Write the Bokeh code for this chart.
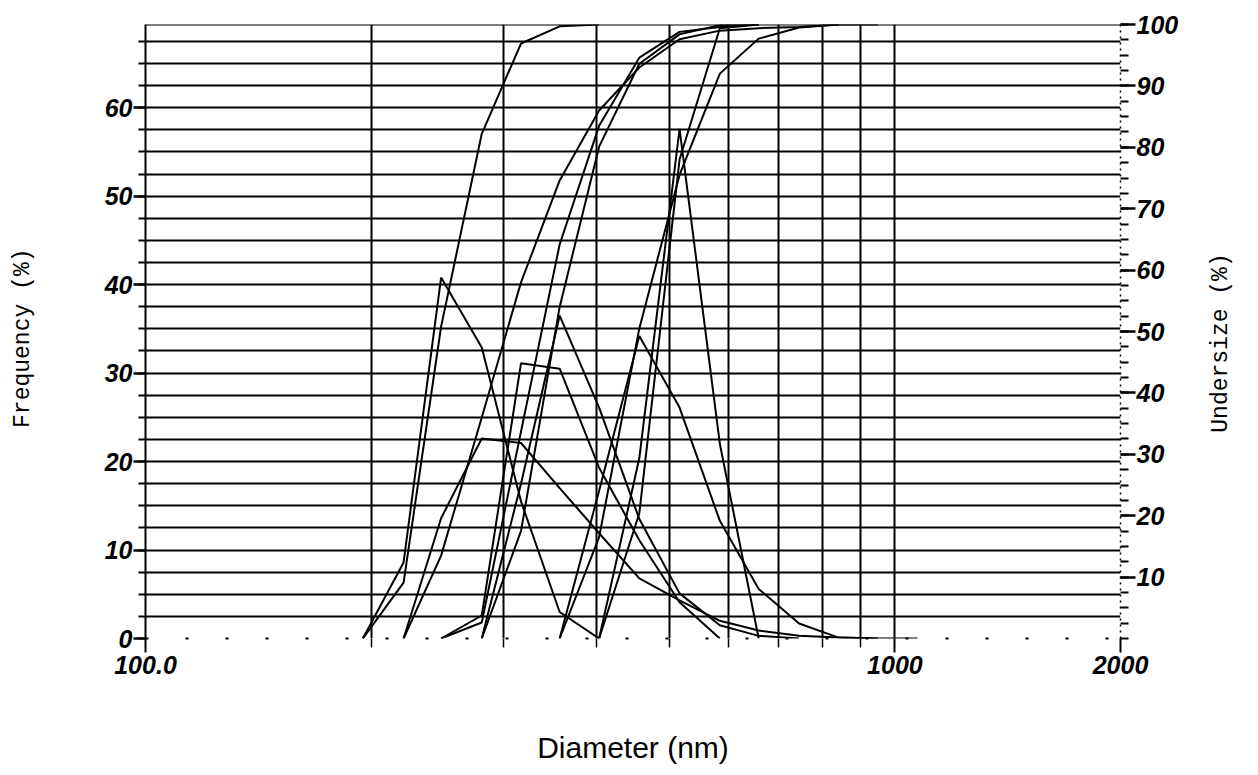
import math
from bokeh.plotting import figure
from bokeh.layouts import row
from bokeh.models import Range1d, LinearAxis, FixedTicker, Span, Label
from bokeh.embed import file_html
from bokeh.resources import INLINE

N = float("nan")

# Particle size bins (nm)
diameter_nm = [195, 221, 248, 281, 317, 357, 403, 456, 516, 584, 658, 745, 841, 949, 1072]

# Frequency (%) curves, left axis
freq_1 = [0, 8.6, 40.8, 32.9, 15.5, 3.0, 0, N, N, N, N, N, N, N, N]
freq_2 = [N, 0, 13.6, 22.6, 22.1, 17.0, 11.9, 6.8, 4.3, 2.0, 0.9, 0.3, 0.1, 0, 0]
freq_3 = [N, N, 0, 2.6, 31.1, 30.5, 19.3, 11.1, 4.1, 0, N, N, N, N, N]
freq_4 = [N, N, N, 0, 17.5, 36.5, 26.1, 13.5, 5.1, 1.5, 0.3, 0, N, N, N]
freq_5 = [N, N, N, N, N, 0, 16.7, 34.2, 26.1, 13.3, 5.6, 1.7, 0.1, 0, N]
freq_6 = [N, N, N, N, N, N, 0, 20.4, 57.6, 22.0, 0, N, N, N, N]

# Undersize (%) curves, right axis
under_1 = [0, 9.1, 50.8, 82.2, 96.9, 99.7, 100, N, N, N, N, N, N, N, N]
under_2 = [N, 0, 13.5, 36.0, 58.0, 74.6, 86.0, 93.0, 97.6, 99.0, 99.4, 99.6, 100, N, N]
under_3 = [N, N, 0, 2.6, 33.7, 64.2, 83.5, 94.6, 98.8, 99.6, 100, N, N, N, N]
under_4 = [N, N, N, 0, 17.5, 54.0, 80.1, 93.6, 98.4, 99.9, 100, N, N, N, N]
under_5 = [N, N, N, N, N, 0, 16.5, 50.5, 75.5, 92.0, 97.7, 99.5, 100, 100, N]
under_6 = [N, N, N, N, N, N, 0, 20.4, 78.0, 99.4, 100, N, N, N, N]

freq_series = [freq_1, freq_2, freq_3, freq_4, freq_5, freq_6]
under_series = [under_1, under_2, under_3, under_4, under_5, under_6]

x_ticks = [100, 1000, 2000]
x_tick_labels = {100: "100.0", 1000: "1000", 2000: "2000"}
x_minor = [200, 300, 400, 500, 600, 700, 800, 900]
left_ticks = [0, 10, 20, 30, 40, 50, 60]
right_ticks = [10, 20, 30, 40, 50, 60, 70, 80, 90, 100]
left_minor = [2.5 * k for k in range(0, 28)]
right_minor = [2.5 * k for k in range(0, 41)]
hgrid = [2.5 * k for k in range(1, 28)]

LEFT_MAX = 69.4
H = 775
LEFT_STRIP = 45
RIGHT_STRIP = 68
MAIN_W = 1258 - LEFT_STRIP - RIGHT_STRIP

p = figure(width=MAIN_W, height=H, x_axis_type="log",
           x_range=Range1d(100, 2000), y_range=Range1d(0, LEFT_MAX),
           output_backend="svg", toolbar_location=None, title=None,
           min_border_left=145 - LEFT_STRIP, min_border_right=MAIN_W + LEFT_STRIP - 1120,
           min_border_top=24, min_border_bottom=137)
p.extra_y_ranges = {"right": Range1d(0, 100)}
p.outline_line_color = None
p.background_fill_color = "white"
p.border_fill_color = "white"

tick_font = "Liberation Sans"

# x axis
xa = p.xaxis[0]
xa.ticker = FixedTicker(ticks=x_ticks, minor_ticks=x_minor)
xa.major_label_overrides = x_tick_labels
xa.major_label_text_font = tick_font
xa.major_label_text_font_style = "bold italic"
xa.major_label_text_font_size = "25px"
xa.major_label_text_color = "black"
xa.major_tick_out = 14
xa.major_tick_in = 0
xa.minor_tick_out = 9
xa.minor_tick_in = 0
xa.major_tick_line_width = 2
xa.minor_tick_line_width = 1.5
xa.major_label_standoff = 3
xa.axis_line_dash = "3 37"
xa.axis_line_width = 2
xa.axis_label = "Diameter (nm)"
xa.axis_label_text_font = "Liberation Sans"
xa.axis_label_text_font_style = "normal"
xa.axis_label_text_font_size = "30px"
xa.axis_label_text_color = "black"
xa.axis_label_standoff = 54

# left axis
ya = p.yaxis[0]
ya.ticker = FixedTicker(ticks=left_ticks, minor_ticks=left_minor)
ya.major_label_text_font = tick_font
ya.major_label_text_font_style = "bold italic"
ya.major_label_text_font_size = "25px"
ya.major_label_text_color = "black"
ya.major_tick_out = 12
ya.major_tick_in = 0
ya.minor_tick_out = 7
ya.minor_tick_in = 0
ya.major_tick_line_width = 2.5
ya.minor_tick_line_width = 2
ya.major_label_standoff = 1
ya.axis_line_width = 2

# right axis
ra = LinearAxis(y_range_name="right",
                ticker=FixedTicker(ticks=right_ticks, minor_ticks=right_minor))
ra.major_label_text_font = tick_font
ra.major_label_text_font_style = "bold italic"
ra.major_label_text_font_size = "25px"
ra.major_label_text_color = "black"
ra.major_tick_out = 15
ra.major_tick_in = 0
ra.minor_tick_out = 8
ra.minor_tick_in = 0
ra.major_tick_line_width = 2.5
ra.minor_tick_line_width = 2
ra.major_label_standoff = 1
ra.axis_line_dash = "2 4"
ra.axis_line_width = 1.5
p.add_layout(ra, "right")

# grids
p.xgrid.ticker = FixedTicker(ticks=x_minor + [1000])
p.ygrid.ticker = FixedTicker(ticks=hgrid)
for g in (p.xgrid, p.ygrid):
    g.grid_line_color = "black"
    g.grid_line_width = 2
    g.grid_line_alpha = 1.0

p.add_layout(Span(location=LEFT_MAX, dimension="width", line_color="black", line_width=2))

# curves
for ys in freq_series:
    p.line(diameter_nm, ys, line_color="black", line_width=2)
for ys in under_series:
    p.line(diameter_nm, ys, line_color="black", line_width=2, y_range_name="right")


def title_strip(w, text, cx, cy):
    s = figure(width=w, height=H, x_range=Range1d(0, w), y_range=Range1d(0, H),
               output_backend="svg", toolbar_location=None, title=None,
               x_axis_location=None, y_axis_location=None, min_border=0)
    s.grid.visible = False
    s.outline_line_color = None
    s.background_fill_color = "white"
    s.border_fill_color = "white"
    s.add_layout(Label(x=cx, y=H - cy, text=text, angle=math.pi / 2,
                       text_align="center", text_baseline="middle",
                       text_font="Liberation Mono", text_font_size="23px",
                       text_color="black"))
    return s


left_strip = title_strip(LEFT_STRIP, "Frequency (%)", 22, 396)
right_strip = title_strip(RIGHT_STRIP, "Undersize (%)", 1220 - (1258 - RIGHT_STRIP), 402)

layout = row(left_strip, p, right_strip, spacing=0)

open("out.html", "w").write(file_html(layout, INLINE))
